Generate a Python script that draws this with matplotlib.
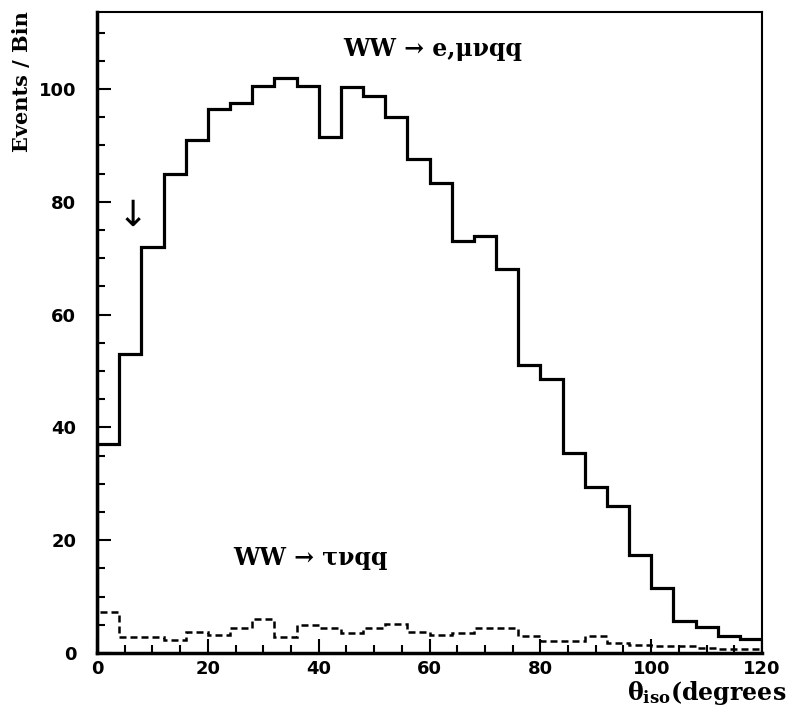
import matplotlib
matplotlib.use("Agg")
import matplotlib.pyplot as plt
import numpy as np

bin_edges = list(range(0, 124, 4))
emu_counts = [37, 53, 72, 85, 91, 96.5, 97.5, 100.5, 102, 100.5, 91.5, 100.3, 98.7, 95,
              87.5, 83.3, 73, 74, 68, 51, 48.5, 35.5, 29.5, 26, 17.4, 11.6, 5.6, 4.7, 3, 2.4]
tau_counts = [7.3, 2.8, 2.8, 2.3, 3.8, 3.2, 4.5, 6.0, 2.9, 4.9, 4.4, 3.6, 4.4, 5.2,
              3.8, 3.2, 3.5, 4.4, 4.5, 3.0, 2.1, 2.1, 3.0, 1.8, 1.4, 1.3, 1.2, 0.9, 0.7, 0.7]
x_ticks = [0, 20, 40, 60, 80, 100, 120]
y_ticks = [0, 20, 40, 60, 80, 100]

plt.rcParams["mathtext.fontset"] = "dejavuserif"

fig = plt.figure(figsize=(7.9, 7.18), dpi=100)
ax = fig.add_axes([0.1228, 0.0905, 0.8418, 0.8925])

ax.stairs(emu_counts, bin_edges, color="black", linewidth=2.3)
ax.stairs(tau_counts, bin_edges, color="black", linewidth=1.8, linestyle=(0, (2.8, 1.6)))

ax.set_xlim(0, 120)
ax.set_ylim(0, 113.6)
ax.set_xticks(x_ticks)
ax.set_yticks(y_ticks)
ax.set_xticks(np.arange(0, 121, 5), minor=True)
ax.set_yticks(np.arange(0, 114, 5), minor=True)
ax.tick_params(which="both", direction="in", top=False, right=False, width=1.5)
ax.tick_params(which="major", length=10)
ax.tick_params(which="minor", length=6)
ax.tick_params(axis="x", pad=5)
ax.tick_params(axis="y", pad=15)
for lab in ax.get_xticklabels() + ax.get_yticklabels():
    lab.set_fontfamily("DejaVu Sans")
    lab.set_fontweight("bold")
    lab.set_fontsize(13)

ax.spines["left"].set_linewidth(2.5)
ax.spines["bottom"].set_linewidth(2.5)
ax.spines["top"].set_linewidth(1.5)
ax.spines["right"].set_linewidth(1.5)

serif = dict(family="DejaVu Serif", fontweight="bold")
ax.text(60.5, 107, "WW \u2192 e,\u03bc\u03bdqq", ha="center", va="center", fontsize=17, **serif)
ax.text(38.5, 16.8, "WW \u2192 \u03c4\u03bdqq", ha="center", va="center", fontsize=17, **serif)
ax.text(6.5, 77.5, "\u2193", ha="center", va="center", fontsize=26, family="DejaVu Sans")

fig.text(0.996, 0.016, r"$\mathbf{\theta_{iso}}$(degrees", ha="right", va="bottom",
         fontsize=17, **serif)
fig.text(0.028, 0.984, "Events / Bin", rotation=90, ha="center", va="top", fontsize=15, **serif)

fig.savefig("out.png", dpi=100)
